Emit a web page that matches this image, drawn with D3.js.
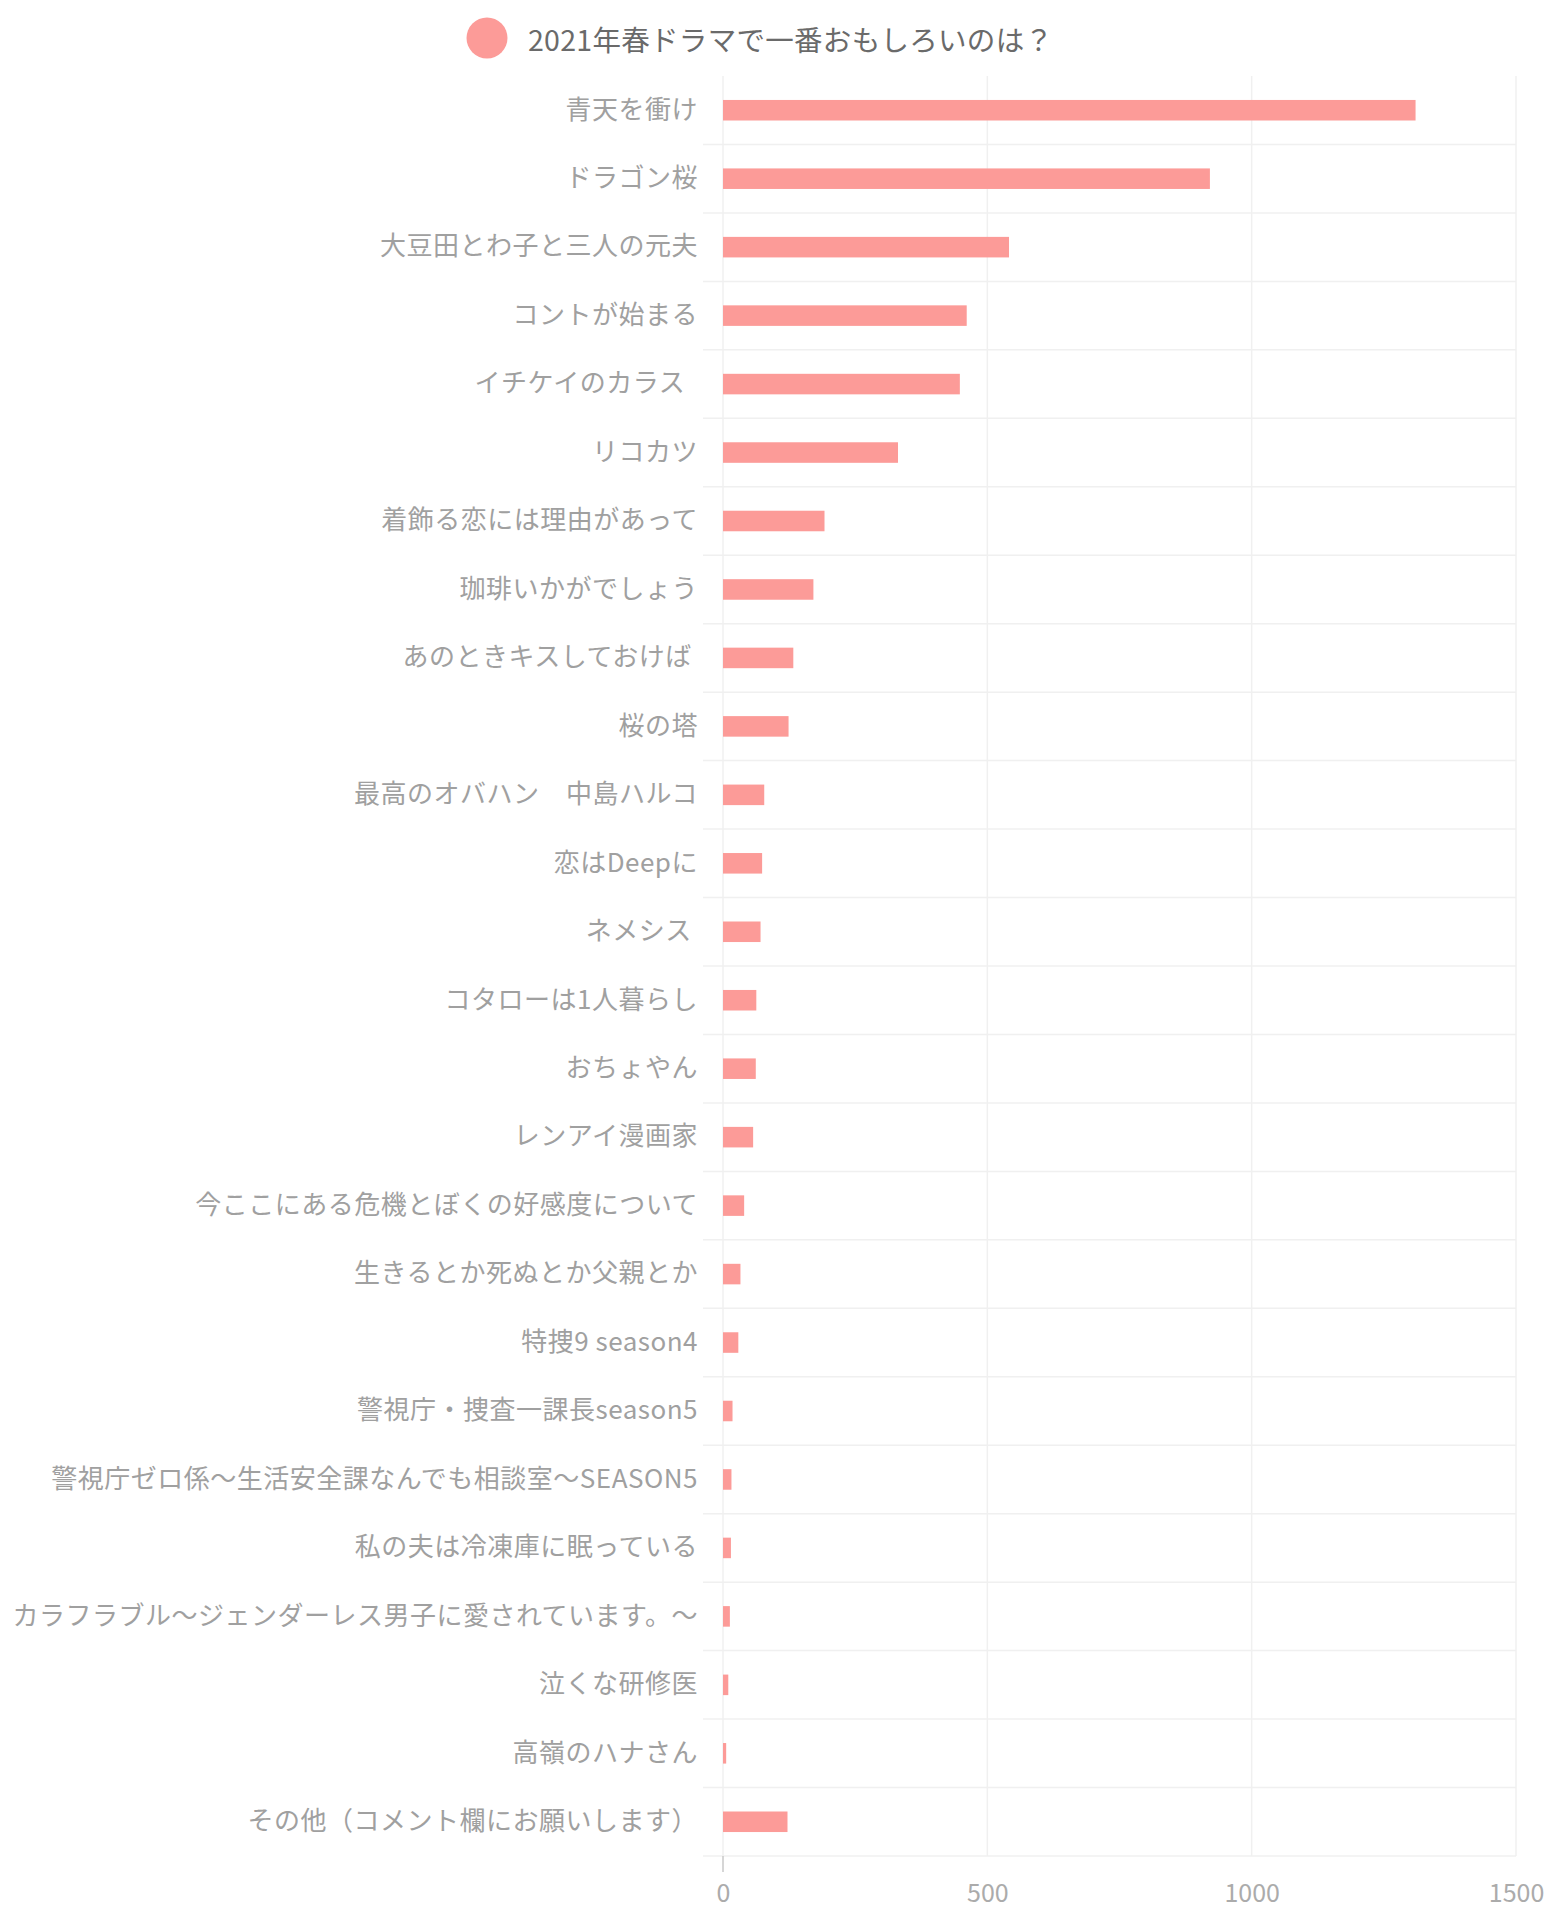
<!DOCTYPE html>
<html><head><meta charset="utf-8">
<script src="https://cdn.jsdelivr.net/npm/d3@7"></script>
<style>
html,body{margin:0;padding:0;background:#fff;}
text{font-family:"Noto Sans CJK JP","Noto Sans",sans-serif;white-space:pre;}
</style></head>
<body><svg id="c" width="1550" height="1920"></svg>
<script>
const title = "2021年春ドラマで一番おもしろいのは？";
const categories = [
  "青天を衝け","ドラゴン桜","大豆田とわ子と三人の元夫","コントが始まる","イチケイのカラス  ",
  "リコカツ","着飾る恋には理由があって","珈琲いかがでしょう","あのときキスしておけば ","桜の塔",
  "最高のオバハン　中島ハルコ","恋はDeepに","ネメシス ","コタローは1人暮らし","おちょやん",
  "レンアイ漫画家","今ここにある危機とぼくの好感度について","生きるとか死ぬとか父親とか","特捜9 season4","警視庁・捜査一課長season5",
  "警視庁ゼロ係～生活安全課なんでも相談室～SEASON5","私の夫は冷凍庫に眠っている","カラフラブル～ジェンダーレス男子に愛されています。～","泣くな研修医","高嶺のハナさん",
  "その他（コメント欄にお願いします）"
];
const votes = [1310,921,541,461,448,331,192,171,133,124,78,74,71,63,62,57,40,33,29,18,16,15,13,10,6,122];
const xTicks = [0,500,1000,1500];

const color = "#fc9b98";
const svg = d3.select("#c");
svg.append("rect").attr("width",1550).attr("height",1920).attr("fill","#fff");

const x = d3.scaleLinear().domain([0,1500]).range([723,1516]);
const y = d3.scaleBand().domain(categories).range([76,1856]).paddingInner(0.7).paddingOuter(0.35);
const step = y.step();

// vertical grid
svg.append("g").selectAll("line").data(xTicks).join("line")
  .attr("x1",d=>x(d)).attr("x2",d=>x(d)).attr("y1",76).attr("y2",1856)
  .attr("stroke","#f0f0f0").attr("stroke-width",1.5);
// horizontal separators
const seps = d3.range(1, categories.length + 1);
svg.append("g").selectAll("line").data(seps).join("line")
  .attr("x1",703).attr("x2",1516)
  .attr("y1",i=>76+i*step).attr("y2",i=>76+i*step)
  .attr("stroke","#f0f0f0").attr("stroke-width",1.5);
// zero tick
svg.append("line").attr("x1",x(0)).attr("x2",x(0)).attr("y1",1856).attr("y2",1872)
  .attr("stroke","#c8c8c8").attr("stroke-width",1.5);

// bars
svg.append("g").selectAll("rect").data(categories).join("rect")
  .attr("x",x(0)).attr("y",d=>y(d))
  .attr("width",(d,i)=>x(votes[i])-x(0)).attr("height",y.bandwidth())
  .attr("fill",color);

// category axis
const ya = svg.append("g").attr("transform","translate(723,0)")
  .call(d3.axisLeft(y).tickSize(0).tickPadding(25));
ya.select(".domain").remove();
ya.selectAll("text").attr("fill","#a0a0a0").attr("font-size",26)
  .style("letter-spacing","0.5px")
  .style("font-family",'"Noto Sans CJK JP",sans-serif');

// x axis labels
const xa = svg.append("g").attr("transform","translate(0,1884)")
  .call(d3.axisBottom(x).tickValues(xTicks).tickSize(0).tickPadding(0).tickFormat(d3.format("d")));
xa.select(".domain").remove();
xa.selectAll("text").attr("fill","#ababab").attr("font-size",25).attr("dy","0.71em")
  .style("font-family",'"Noto Sans CJK JP",sans-serif');

// legend
svg.append("circle").attr("cx",487).attr("cy",38).attr("r",20.5).attr("fill",color);
svg.append("text").attr("x",528).attr("y",38).attr("dominant-baseline","central")
  .attr("font-size",28.5).style("letter-spacing","0.3px").attr("fill","#6a6a6a").text(title);
</script></body></html>
